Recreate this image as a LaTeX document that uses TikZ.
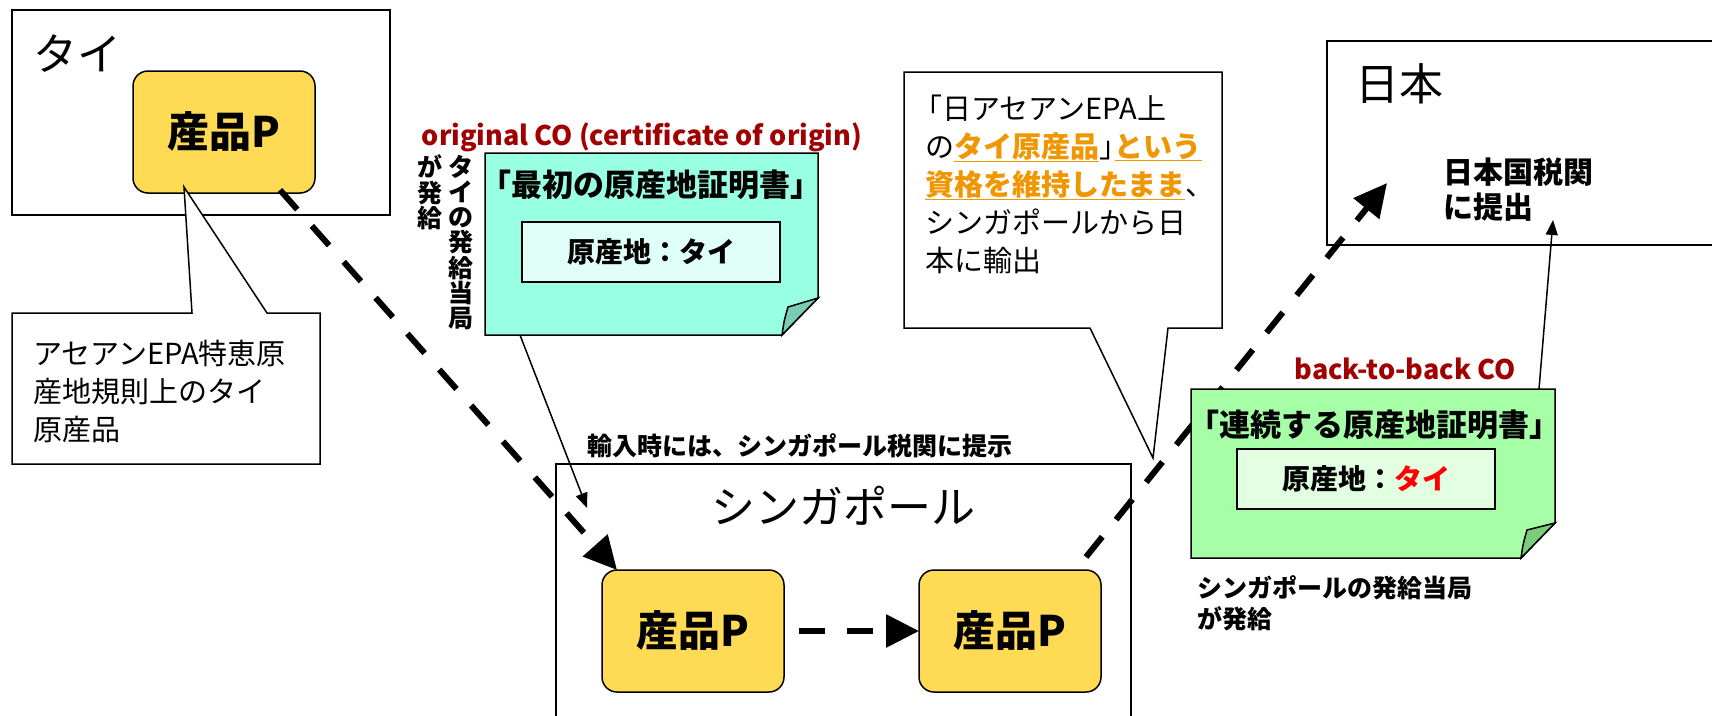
\documentclass[tikz,border=0pt]{standalone}
\usepackage{fontspec}
\setmainfont{Noto Sans CJK JP}
\usetikzlibrary{arrows.meta}

\definecolor{jaune}{RGB}{255,218,85}
\definecolor{cyanN}{RGB}{153,255,226}
\definecolor{cyanP}{RGB}{122,204,180}
\definecolor{cyanC}{RGB}{224,255,248}
\definecolor{vertN}{RGB}{166,255,166}
\definecolor{vertP}{RGB}{125,204,125}
\definecolor{vertC}{RGB}{226,255,226}
\definecolor{orangeT}{RGB}{240,150,0}
\definecolor{rougeF}{RGB}{160,0,0}
\definecolor{rougeV}{RGB}{255,0,0}

\newcommand{\enorange}[1]{\textcolor{orangeT}{\bfseries\underline{#1}}}

\begin{document}
\begin{tikzpicture}[x=1pt, y=-1pt,
    every node/.style={inner sep=0pt, outer sep=0pt},
    cadre/.style={draw, line width=1.5pt, anchor=north west},
    produit/.style={cadre, rounded corners=15pt, fill=jaune, minimum width=182pt, minimum height=122pt, font=\fontsize{42}{42}\selectfont\bfseries},
    nompays/.style={anchor=base west, font=\fontsize{44}{44}\selectfont},
    texte/.style={anchor=base west, align=left, font=\fontsize{29}{38}\selectfont},
    gras/.style={anchor=base west, align=left, font=\fontsize{25}{31}\selectfont\bfseries},
    titre/.style={font=\fontsize{31}{31}\selectfont\bfseries},
    origine/.style={cadre, minimum width=258pt, minimum height=60pt, font=\fontsize{28}{28}\selectfont\bfseries},
    co/.style={font=\fontsize{27}{27}\selectfont\bfseries, text=rougeF},
    vertical/.style={anchor=north, align=center, font=\fontsize{25}{25.2}\selectfont\bfseries},
    envoi/.style={line width=6pt, dash pattern=on 26pt off 22pt, -{Triangle[length=33pt, width=32pt]}},
    renvoi/.style={line width=1.5pt, -{Triangle[length=15pt, width=12pt]}},
    trait/.style={line width=1.5pt, fill=white}
]

\path[fill=white, use as bounding box] (0,0) rectangle (1712,715);

% Pays
\node[cadre, minimum width=378pt, minimum height=205pt] (thai) at (12,10) {};
\node[nompays] (nThai) at (33,70) {タイ};
\node[cadre, minimum width=575pt, minimum height=300pt] (sing) at (556,464) {};
\node[nompays, anchor=base] (nSing) at (843,523) {シンガポール};
\node[cadre, minimum width=420pt, minimum height=204pt] (japon) at (1327,41) {};
\node[nompays] (nJapon) at (1355,100) {日本};
% (base = ligne du bas)
\node[anchor=base west, align=left, font=\fontsize{30}{35}\selectfont\bfseries] (douaneJ) at (1443,218) {日本国税関\\に提出};

% Produits
\node[produit] (pThai) at (133,71) {産品P};
\node[produit] (pSg1) at (602,570) {産品P};
\node[produit] (pSg2) at (919,570) {産品P};

% Bulles
\node[minimum width=308pt, minimum height=151pt, anchor=north west] (bulleT) at (12,313) {};
\draw[trait] (bulleT.north west) -- ([xshift=180pt]bulleT.north west) -- ([xshift=-40pt, yshift=6pt]pThai.south)
    -- ([xshift=255pt]bulleT.north west) -- (bulleT.north east) -- (bulleT.south east) -- (bulleT.south west) -- cycle;
\node[texte] (tBulleT) at (33,440) {アセアンEPA特恵原\\産地規則上のタイ\\原産品};

\coordinate (pointe) at (1153,458);
\node[minimum width=318pt, minimum height=256pt, anchor=north west] (bulleE) at (904,72) {};
\draw[trait] (bulleE.north west) -- (bulleE.north east) -- (bulleE.south east) -- ([xshift=-54pt]bulleE.south east)
    -- (pointe) -- ([xshift=186pt]bulleE.south west) -- (bulleE.south west) -- cycle;
\node[texte] (tBulleE) at (925,271) {\hspace*{-0.4em}「日アセアンEPA上\\の\enorange{タイ原産品}」\hspace{-0.45em}\enorange{という}\\\enorange{資格を維持したまま}、\\シンガポールから日\\本に輸出};

% Flux du produit
\draw[envoi] ([xshift=-35pt, yshift=3pt]pThai.south east) -- ([xshift=15pt]pSg1.north west);
\draw[envoi, dash phase=33pt] (pSg1.east) -- (pSg2.west);
\draw[envoi] ([xshift=-15pt, yshift=13pt]pSg2.north east) -- ([xshift=60pt, yshift=62pt]japon.south west);

% Certificat initial
\node[minimum width=333pt, minimum height=182pt, anchor=north west] (coO) at (485,153) {};
\draw[trait, fill=cyanN] (coO.north west) -- (coO.north east) -- ([yshift=37pt]coO.south east)
    -- ([xshift=-36pt]coO.south east) -- (coO.south west) -- cycle;
\draw[trait, fill=cyanP] ([yshift=37pt]coO.south east) -- ([xshift=-30pt, yshift=28pt]coO.south east)
    .. controls ([xshift=-34pt, yshift=14pt]coO.south east) .. ([xshift=-36pt]coO.south east) -- cycle;
\node[titre] (tCoO) at (651,185) {「最初の原産地証明書」};
\node[origine, fill=cyanC] (oCoO) at (522,222) {原産地：タイ};
\node[co] (lCoO) at (642,137) {original CO (certificate of origin)};
\node[vertical] (emA) at (461,155) {タ\\イ\\の\\発\\給\\当\\局};
\node[vertical] (emB) at (430,155) {が\\発\\給};

% Certificat back-to-back
\node[minimum width=364pt, minimum height=169pt, anchor=north west] (coB) at (1191,389) {};
\draw[trait, fill=vertN] (coB.north west) -- (coB.north east) -- ([yshift=35pt]coB.south east)
    -- ([xshift=-34pt]coB.south east) -- (coB.south west) -- cycle;
\draw[trait, fill=vertP] ([yshift=35pt]coB.south east) -- ([xshift=-28pt, yshift=28pt]coB.south east)
    .. controls ([xshift=-32pt, yshift=14pt]coB.south east) .. ([xshift=-34pt]coB.south east) -- cycle;
\node[titre] (tCoB) at (1374,425) {「連続する原産地証明書」};
\node[origine, fill=vertC] (oCoB) at (1237,449) {原産地：\textcolor{rougeV}{タイ}};
\node[co] (lCoB) at (1405,369) {back-to-back CO};
\node[gras] (emC) at (1197,628) {シンガポールの発給当局\\が発給};

% Présentation aux douanes
\coordinate (douaneS) at (587,508);
\draw[renvoi] ([xshift=35pt]coO.south west) -- (douaneS);
\node[gras] (import) at (587,455) {輸入時には、シンガポール税関に提示};
\draw[renvoi] ([xshift=-16pt]coB.north east) -- ([xshift=226pt, yshift=25pt]japon.south west);

\end{tikzpicture}
\end{document}
